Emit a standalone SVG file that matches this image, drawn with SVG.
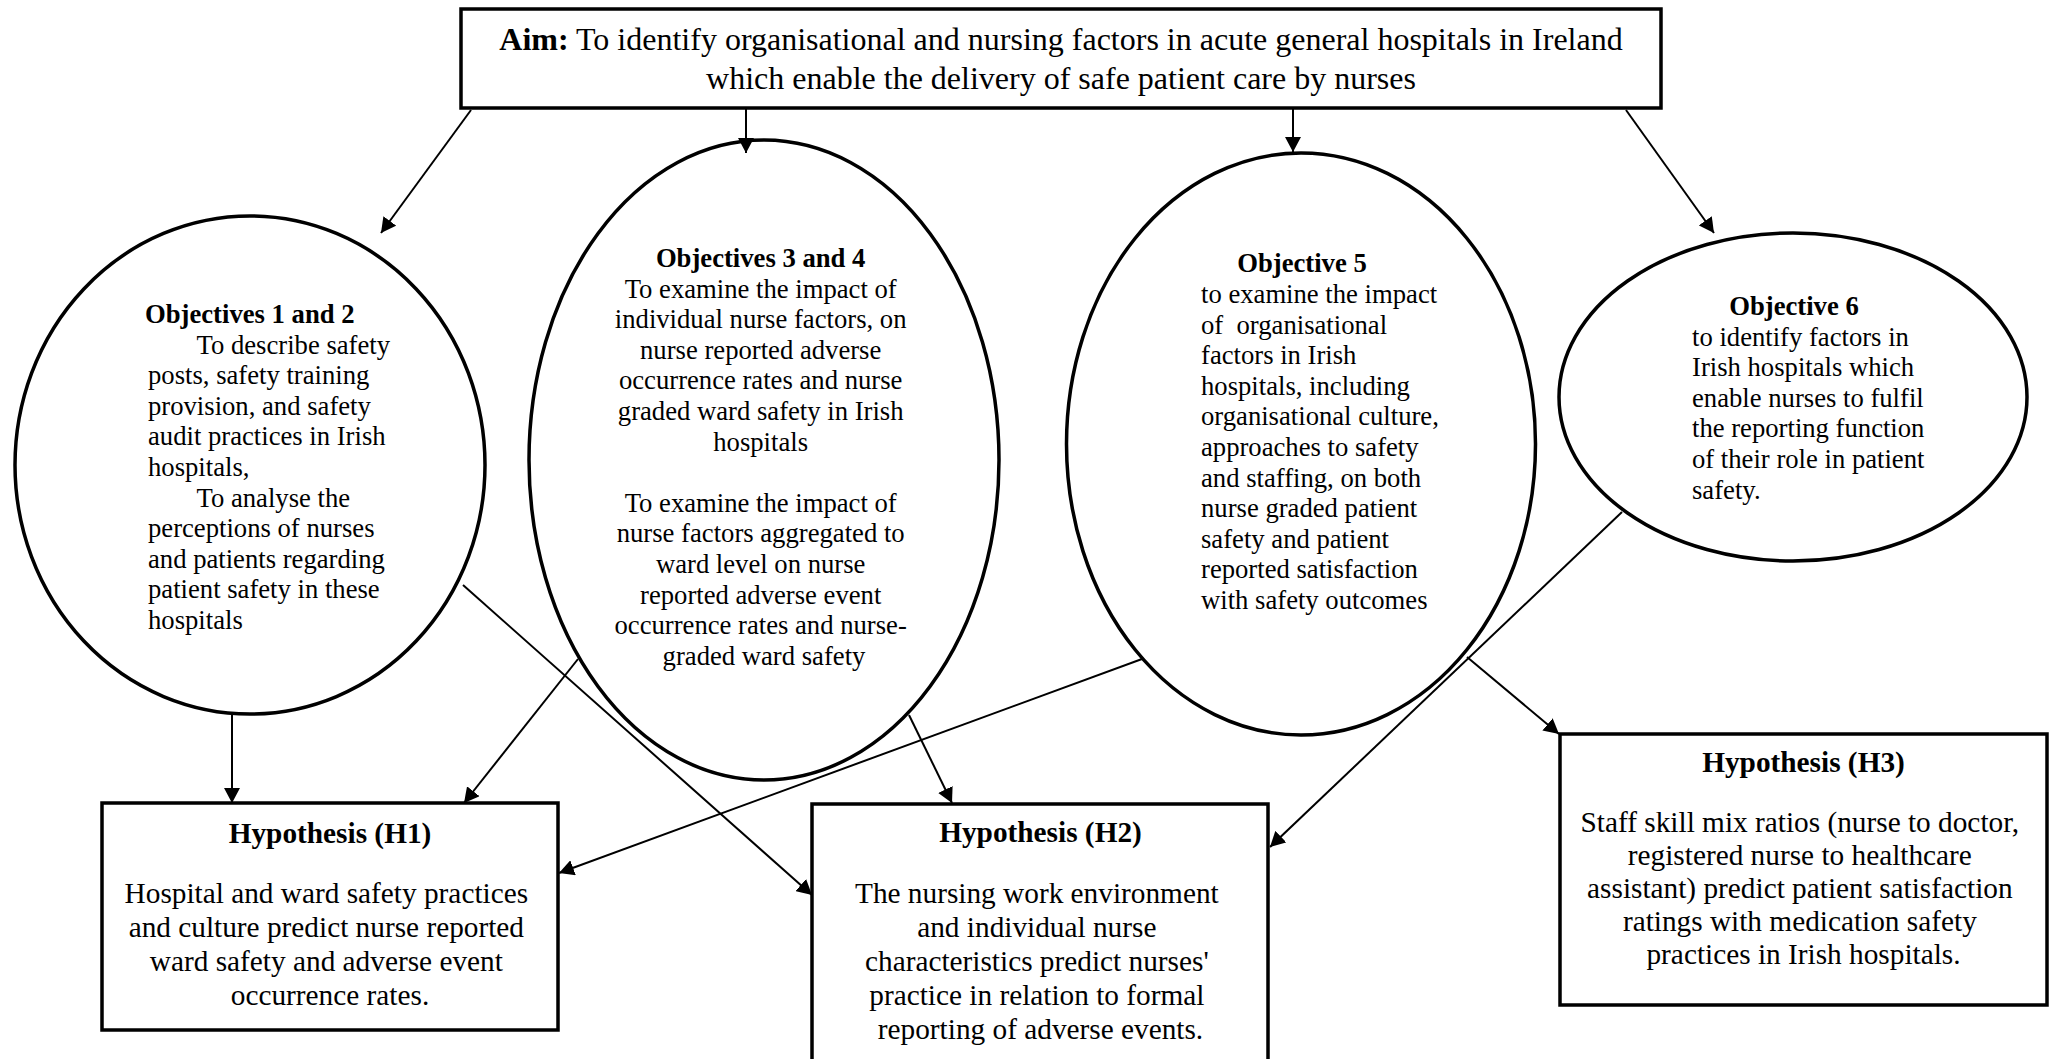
<svg xmlns="http://www.w3.org/2000/svg" width="2051" height="1059" viewBox="0 0 2051 1059">
<style>
.box{fill:#fff;stroke:#000;stroke-width:3.5}
.ell{fill:#fff;stroke:#000;stroke-width:3.5}
.con line{stroke:#000;stroke-width:2;fill:none}
.t{font-family:"Liberation Serif","Times New Roman",serif;fill:#000}
.e{font-size:26.67px}
.h{font-size:29.3px}
.a{font-size:32px}
.b{font-weight:bold}
.m{text-anchor:middle}
</style>
<defs>
<marker id="arr" markerUnits="userSpaceOnUse" viewBox="0 0 15 16" markerWidth="15" markerHeight="16" refX="15" refY="8" orient="auto">
<path d="M0,0 L15,8 L0,16 z" fill="#000"/>
</marker>
</defs>
<rect width="2051" height="1059" fill="#fff"/>

<g id="aim">
<rect class="box" x="461" y="9" width="1200" height="99"/>
<text class="t a m" x="1061" y="50"><tspan class="b">Aim:</tspan> To identify organisational and nursing factors in acute general hospitals in Ireland</text>
<text class="t a m" x="1061" y="89">which enable the delivery of safe patient care by nurses</text>
</g>

<g id="obj12">
<ellipse class="ell" cx="250" cy="465" rx="235" ry="249"/>
<text class="t e">
<tspan class="b" x="145" y="323">Objectives 1 and 2</tspan>
<tspan x="196.5" y="353.6">To describe safety</tspan>
<tspan x="148" y="384.2">posts, safety training</tspan>
<tspan x="148" y="414.8">provision, and safety</tspan>
<tspan x="148" y="445.4">audit practices in Irish</tspan>
<tspan x="148" y="476">hospitals,</tspan>
<tspan x="196.5" y="506.6">To analyse the</tspan>
<tspan x="148" y="537.2">perceptions of nurses</tspan>
<tspan x="148" y="567.8">and patients regarding</tspan>
<tspan x="148" y="598.4">patient safety in these</tspan>
<tspan x="148" y="629">hospitals</tspan>
</text>
</g>

<g id="obj34">
<ellipse class="ell" cx="764" cy="460" rx="235" ry="320"/>
<text class="t e m">
<tspan class="b" x="764" y="267">Objectives 3 and 4</tspan>
<tspan x="764" y="297.6">To examine the impact of</tspan>
<tspan x="764" y="328.2">individual nurse factors, on</tspan>
<tspan x="764" y="358.8">nurse reported adverse</tspan>
<tspan x="764" y="389.4">occurrence rates and nurse</tspan>
<tspan x="764" y="420">graded ward safety in Irish</tspan>
<tspan x="764" y="450.6">hospitals</tspan>
<tspan x="764" y="511.8">To examine the impact of</tspan>
<tspan x="764" y="542.4">nurse factors aggregated to</tspan>
<tspan x="764" y="573">ward level on nurse</tspan>
<tspan x="764" y="603.6">reported adverse event</tspan>
<tspan x="764" y="634.2">occurrence rates and nurse-</tspan>
<tspan x="764" y="664.8">graded ward safety</tspan>
</text>
</g>

<g id="obj5">
<ellipse class="ell" cx="1301" cy="444" rx="234.5" ry="291"/>
<text class="t e b m" x="1302" y="272">Objective 5</text>
<text class="t e" xml:space="preserve">
<tspan x="1201" y="303">to examine the impact</tspan>
<tspan x="1201" y="333.6">of  organisational</tspan>
<tspan x="1201" y="364.2">factors in Irish</tspan>
<tspan x="1201" y="394.8">hospitals, including</tspan>
<tspan x="1201" y="425.4">organisational culture,</tspan>
<tspan x="1201" y="456">approaches to safety</tspan>
<tspan x="1201" y="486.6">and staffing, on both</tspan>
<tspan x="1201" y="517.2">nurse graded patient</tspan>
<tspan x="1201" y="547.8">safety and patient</tspan>
<tspan x="1201" y="578.4">reported satisfaction</tspan>
<tspan x="1201" y="609">with safety outcomes</tspan>
</text>
</g>

<g id="obj6">
<ellipse class="ell" cx="1793" cy="397" rx="234" ry="164"/>
<text class="t e b m" x="1794" y="315">Objective 6</text>
<text class="t e">
<tspan x="1692" y="345.6">to identify factors in</tspan>
<tspan x="1692" y="376.2">Irish hospitals which</tspan>
<tspan x="1692" y="406.8">enable nurses to fulfil</tspan>
<tspan x="1692" y="437.4">the reporting function</tspan>
<tspan x="1692" y="468">of their role in patient</tspan>
<tspan x="1692" y="498.6">safety.</tspan>
</text>
</g>

<g id="h1">
<rect class="box" x="102" y="803" width="456" height="227"/>
<text class="t h b m" x="330" y="843">Hypothesis (H1)</text>
<text class="t h m">
<tspan x="330" y="903">Hospital and ward safety practices</tspan>
<tspan x="330" y="937">and culture predict nurse reported</tspan>
<tspan x="330" y="971">ward safety and adverse event</tspan>
<tspan x="330" y="1005">occurrence rates.</tspan>
</text>
</g>

<g id="h2">
<rect class="box" x="812" y="804" width="456" height="262"/>
<text class="t h b m" x="1040.5" y="842">Hypothesis (H2)</text>
<text class="t h m">
<tspan x="1040.5" y="903">The nursing work environment</tspan>
<tspan x="1040.5" y="937">and individual nurse</tspan>
<tspan x="1040.5" y="971">characteristics predict nurses'</tspan>
<tspan x="1040.5" y="1005">practice in relation to formal</tspan>
<tspan x="1040.5" y="1039">reporting of adverse events.</tspan>
</text>
</g>

<g id="h3">
<rect class="box" x="1560" y="734" width="487" height="271"/>
<text class="t h b m" x="1803.5" y="772">Hypothesis (H3)</text>
<text class="t h m">
<tspan x="1803.5" y="832">Staff skill mix ratios (nurse to doctor,</tspan>
<tspan x="1803.5" y="865">registered nurse to healthcare</tspan>
<tspan x="1803.5" y="898">assistant) predict patient satisfaction</tspan>
<tspan x="1803.5" y="931">ratings with medication safety</tspan>
<tspan x="1803.5" y="964">practices in Irish hospitals.</tspan>
</text>
</g>

<g id="connectors" class="con">
<line x1="471" y1="110" x2="381" y2="233" marker-end="url(#arr)"/>
<line x1="746" y1="108" x2="746" y2="153" marker-end="url(#arr)"/>
<line x1="1293" y1="108" x2="1293" y2="152" marker-end="url(#arr)"/>
<line x1="1626" y1="110" x2="1714" y2="233" marker-end="url(#arr)"/>
<line x1="232" y1="713" x2="232" y2="803" marker-end="url(#arr)"/>
<line x1="578" y1="659" x2="464" y2="803" marker-end="url(#arr)"/>
<line x1="463" y1="585" x2="812" y2="895" marker-end="url(#arr)"/>
<line x1="909" y1="715" x2="952" y2="803" marker-end="url(#arr)"/>
<line x1="1142" y1="659" x2="559" y2="873" marker-end="url(#arr)"/>
<line x1="1467" y1="657" x2="1559" y2="734" marker-end="url(#arr)"/>
<line x1="1622" y1="512" x2="1270" y2="847" marker-end="url(#arr)"/>
</g>
</svg>
